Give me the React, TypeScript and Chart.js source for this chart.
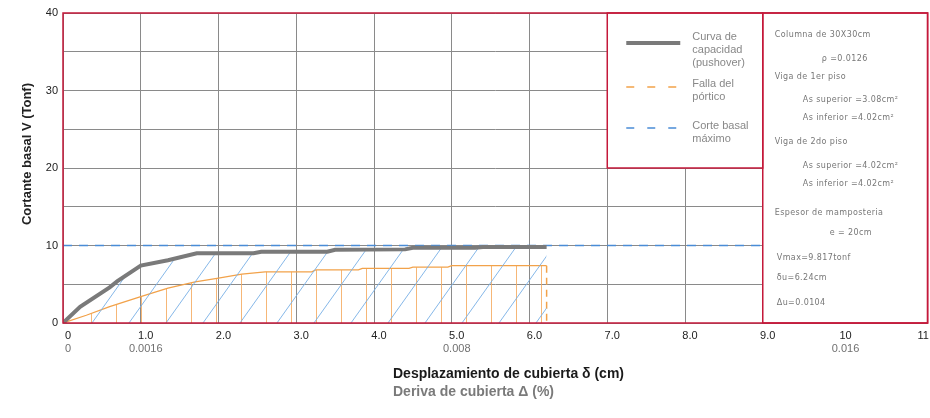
import React, { useEffect, useRef } from 'react';
import { Chart, registerables } from 'chart.js';

Chart.register(...registerables);

// ---- Data ----
const pushoverX = [0, 0.22, 0.6, 0.7, 1.0, 1.35, 1.72, 2.45, 2.55, 3.4, 3.5, 4.4, 4.5, 5.3, 5.4, 6.22];
const pushoverY = [0, 2.1, 4.6, 5.4, 7.4, 8.1, 9.0, 9.0, 9.2, 9.2, 9.45, 9.5, 9.7, 9.7, 9.82, 9.82];

const fallaX = [0, 0.3, 0.6, 1.0, 1.35, 1.7, 2.0, 2.3, 2.6, 3.2, 3.25, 3.8, 3.85, 4.45, 4.5, 4.95, 5.0, 6.22];
const fallaY = [0, 1.0, 2.1, 3.4, 4.5, 5.3, 5.8, 6.3, 6.6, 6.6, 6.85, 6.85, 7.05, 7.05, 7.2, 7.2, 7.4, 7.4];

const fallaLimitX = [6.22, 6.22];
const fallaLimitY = [7.4, 0];

const corteX = [0, 9];
const corteY = [10, 10];

const xTickValues = [0, 1, 2, 3, 4, 5, 6, 7, 8, 9, 10, 11];
const xTickLabels = ['0', '1.0', '2.0', '3.0', '4.0', '5.0', '6.0', '7.0', '8.0', '9.0', '10', '11'];
const driftTickValues = [0, 1, 5, 10];
const driftTickLabels = ['0', '0.0016', '0.008', '0.016'];
const yTickValues = [0, 5, 10, 15, 20, 25, 30, 35, 40];
const yTickLabels = ['0', '', '10', '', '20', '', '30', '', '40'];

const yTitle = 'Cortante basal V (Tonf)';
const xTitle = 'Desplazamiento de cubierta δ (cm)';
const x2Title = 'Deriva de cubierta Δ (%)';

const legendTexts = [
  ['Curva de', 'capacidad', '(pushover)'],
  ['Falla del', 'pórtico'],
  ['Corte basal', 'máximo'],
];

const panelLines = [
  'Columna de 30X30cm',
  'ρ =0.0126',
  'Viga de 1er piso',
  'As superior =3.08cm²',
  'As inferior =4.02cm²',
  'Viga de 2do piso',
  'As superior =4.02cm²',
  'As inferior =4.02cm²',
  'Espesor de mamposteria',
  'e = 20cm',
  'Vmax=9.817tonf',
  'δu=6.24cm',
  'Δu=0.0104',
];

// layout for panel lines (offsets from panel left, y from panel top)
const panelLayout = [
  [12, 22], [59, 46], [12, 64], [40, 87], [40, 105], [12, 129], [40, 153], [40, 171],
  [12, 200], [67, 220], [14, 245], [14, 265], [14, 290],
];

const RED = '#c4193a';
const GRAY = '#7a7a7a';
const ORANGE = '#f2a24a';
const BLUE = '#4a8cd6';

function makeVertPattern(ctx: CanvasRenderingContext2D) {
  const c = document.createElement('canvas');
  c.width = 25;
  c.height = 10;
  const g = c.getContext('2d')!;
  g.strokeStyle = 'rgba(244,170,95,0.85)';
  g.lineWidth = 1;
  g.beginPath();
  g.moveTo(16.5, 0);
  g.lineTo(16.5, 10);
  g.stroke();
  return ctx.createPattern(c, 'repeat')!;
}

function makeDiagPattern(ctx: CanvasRenderingContext2D) {
  const W = 37;
  const H = 52;
  const cOff = 25.8;
  const c = document.createElement('canvas');
  c.width = W;
  c.height = H;
  const g = c.getContext('2d')!;
  g.strokeStyle = 'rgba(120,175,230,0.9)';
  g.lineWidth = 1;
  g.beginPath();
  for (const k of [-1, 0, 1]) {
    g.moveTo(cOff + k * W, 0);
    g.lineTo(cOff - W + k * W, H);
  }
  g.stroke();
  return ctx.createPattern(c, 'repeat')!;
}

const overlayPlugin = {
  id: 'overlay',
  beforeDatasetsDraw(chart: any) {
    const { ctx, chartArea: ca, scales } = chart;
    const x = scales.x;
    const y = scales.y;
    ctx.save();
    // legend box
    const lx0 = x.getPixelForValue(7);
    const lx1 = x.getPixelForValue(9);
    const ly1 = y.getPixelForValue(20);
    ctx.fillStyle = '#ffffff';
    ctx.fillRect(lx0, ca.top, lx1 - lx0, ly1 - ca.top);
    // panel
    ctx.fillRect(lx1, ca.top, ca.right - lx1, ca.bottom - ca.top);
    ctx.strokeStyle = RED;
    ctx.lineWidth = 1.5;
    ctx.strokeRect(lx0, ca.top, lx1 - lx0, ly1 - ca.top);
    ctx.strokeRect(lx1, ca.top, ca.right - lx1, ca.bottom - ca.top);

    // legend samples
    const sx0 = lx0 + 19;
    const sx1 = lx0 + 73;
    const rows = [30, 74, 115];
    ctx.lineCap = 'butt';
    // gray
    ctx.strokeStyle = GRAY;
    ctx.lineWidth = 4;
    ctx.beginPath();
    ctx.moveTo(sx0, ca.top + rows[0]);
    ctx.lineTo(sx1, ca.top + rows[0]);
    ctx.stroke();
    // orange dashed
    ctx.lineWidth = 1.3;
    ctx.setLineDash([8, 13]);
    ctx.strokeStyle = ORANGE;
    ctx.beginPath();
    ctx.moveTo(sx0, ca.top + rows[1]);
    ctx.lineTo(sx1, ca.top + rows[1]);
    ctx.stroke();
    ctx.strokeStyle = BLUE;
    ctx.beginPath();
    ctx.moveTo(sx0, ca.top + rows[2]);
    ctx.lineTo(sx1, ca.top + rows[2]);
    ctx.stroke();
    ctx.setLineDash([]);

    // legend texts
    ctx.fillStyle = '#888888';
    ctx.font = '11px "Liberation Sans", Arial, sans-serif';
    ctx.textAlign = 'left';
    ctx.textBaseline = 'middle';
    const textTops = [24, 71, 113];
    legendTexts.forEach((lines, i) => {
      lines.forEach((t, j) => {
        ctx.fillText(t, lx0 + 85, ca.top + textTops[i] + j * 13);
      });
    });

    // panel texts
    ctx.fillStyle = '#777777';
    ctx.font = '8px "DejaVu Sans", sans-serif';
    try { (ctx as any).letterSpacing = '0.4px'; } catch (e) { /* ignore */ }
    panelLines.forEach((t, i) => {
      const [dx, dy] = panelLayout[i];
      ctx.fillText(t, lx1 + dx, ca.top + dy);
    });
    try { (ctx as any).letterSpacing = '0px'; } catch (e) { /* ignore */ }
    ctx.restore();
  },
  afterDraw(chart: any) {
    const { ctx, chartArea: ca } = chart;
    ctx.save();
    ctx.strokeStyle = RED;
    ctx.lineWidth = 1.5;
    ctx.strokeRect(ca.left, ca.top, ca.right - ca.left, ca.bottom - ca.top);

    // axis titles
    ctx.fillStyle = '#222222';
    ctx.font = 'bold 13px "Liberation Sans", Arial, sans-serif';
    ctx.textAlign = 'center';
    ctx.textBaseline = 'middle';
    ctx.save();
    ctx.translate(ca.left - 36, ca.top + 141);
    ctx.rotate(-Math.PI / 2);
    ctx.fillText(yTitle, 0, 0);
    ctx.restore();

    ctx.textAlign = 'left';
    ctx.font = 'bold 14px "Liberation Sans", Arial, sans-serif';
    ctx.fillStyle = '#1a1a1a';
    ctx.fillText(xTitle, 393, ca.bottom + 51);
    ctx.fillStyle = '#7a7a7a';
    ctx.fillText(x2Title, 393, ca.bottom + 69);
    ctx.restore();
  },
};

export default function App() {
  const canvasRef = useRef<HTMLCanvasElement | null>(null);

  useEffect(() => {
    const canvas = canvasRef.current;
    if (!canvas) return;
    const ctx = canvas.getContext('2d')!;
    const diag = makeDiagPattern(ctx);
    const vert = makeVertPattern(ctx);

    const toPts = (xs: number[], ys: number[]) => xs.map((v, i) => ({ x: v, y: ys[i] }));

    const chart = new Chart(ctx, {
      type: 'line',
      data: {
        datasets: [
          {
            label: 'Curva de capacidad (pushover)',
            data: toPts(pushoverX, pushoverY),
            borderColor: GRAY,
            borderWidth: 4,
            pointRadius: 0,
            tension: 0,
            fill: 'origin',
            backgroundColor: diag as any,
          },
          {
            label: 'Falla del pórtico',
            data: toPts(fallaX, fallaY),
            borderColor: ORANGE,
            borderWidth: 1.3,
            pointRadius: 0,
            tension: 0,
            fill: 'origin',
            backgroundColor: vert as any,
          },
          {
            label: 'Falla límite',
            data: toPts(fallaLimitX, fallaLimitY),
            borderColor: ORANGE,
            borderWidth: 1.5,
            borderDash: [7, 5],
            pointRadius: 0,
            fill: false,
          },
          {
            label: 'Corte basal máximo',
            data: toPts(corteX, corteY),
            borderColor: BLUE,
            borderWidth: 1.5,
            borderDash: [9, 7],
            pointRadius: 0,
            fill: false,
          },
        ],
      },
      options: {
        animation: false,
        responsive: true,
        maintainAspectRatio: false,
        layout: { padding: { top: 13, right: 2, bottom: 62, left: 0 } },
        plugins: {
          legend: { display: false },
          tooltip: { enabled: false },
        },
        scales: {
          x: {
            type: 'linear',
            position: 'bottom',
            min: 0,
            max: 11.12,
            afterBuildTicks: (s: any) => {
              s.ticks = xTickValues.map((v) => ({ value: v }));
            },
            afterFit: (s: any) => {
              s.height = 19;
            },
            grid: { color: '#8a8a8a', lineWidth: 1, drawTicks: false },
            border: { display: false },
            ticks: {
              autoSkip: false,
              maxRotation: 0,
              padding: 6,
              labelOffset: 5,
              color: '#222222',
              font: { family: '"Liberation Sans", Arial, sans-serif', size: 11 },
              callback: (v: any) => {
                const i = xTickValues.indexOf(Number(v));
                return i >= 0 ? xTickLabels[i] : '';
              },
            },
          },
          x2: {
            type: 'linear',
            position: 'bottom',
            min: 0,
            max: 11.12,
            afterBuildTicks: (s: any) => {
              s.ticks = driftTickValues.map((v) => ({ value: v }));
            },
            afterFit: (s: any) => {
              s.height = 14;
            },
            grid: { display: false, drawTicks: false },
            border: { display: false },
            ticks: {
              autoSkip: false,
              maxRotation: 0,
              padding: 0,
              labelOffset: 5,
              color: '#707070',
              font: { family: '"Liberation Sans", Arial, sans-serif', size: 11 },
              callback: (v: any) => {
                const i = driftTickValues.indexOf(Number(v));
                return i >= 0 ? driftTickLabels[i] : '';
              },
            },
          },
          y: {
            type: 'linear',
            position: 'left',
            min: 0,
            max: 40,
            afterBuildTicks: (s: any) => {
              s.ticks = yTickValues.map((v) => ({ value: v }));
            },
            afterFit: (s: any) => {
              s.width = 63;
            },
            grid: { color: '#8a8a8a', lineWidth: 1, drawTicks: false },
            border: { display: false },
            ticks: {
              autoSkip: false,
              padding: 5,
              color: '#222222',
              font: { family: '"Liberation Sans", Arial, sans-serif', size: 11 },
              callback: (v: any) => {
                const i = yTickValues.indexOf(Number(v));
                return i >= 0 ? yTickLabels[i] : '';
              },
            },
          },
        },
      },
      plugins: [overlayPlugin],
    } as any);

    return () => chart.destroy();
  }, []);

  return (
    <div style={{ position: 'absolute', left: 0, top: 0, width: 930, height: 418, background: '#fff' }}>
      <canvas ref={canvasRef} />
    </div>
  );
}
